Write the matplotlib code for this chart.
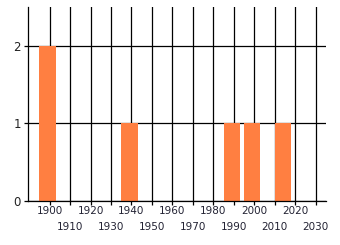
import matplotlib
matplotlib.use("Agg")
import matplotlib.pyplot as plt

years = [1899, 1939, 1989, 1999, 2014]
counts = [2, 1, 1, 1, 1]
xticks = list(range(1900, 2031, 10))
yticks = [0, 1, 2]

fig = plt.figure(figsize=(3.4, 2.45), dpi=100)
ax = fig.add_axes([28/340, 1-201/245, (326-28)/340, (201-7)/245])
for x in xticks:
    ax.axvline(x, color="black", lw=0.9, zorder=1)
for y in yticks:
    ax.axhline(y, color="black", lw=0.9, zorder=1)
ax.bar(years, counts, width=8, color="#ff7f41", zorder=2)
ax.set_xlim(1889.4, 2035.1)
ax.set_ylim(0, 2.5)
ax.set_xticks(xticks)
ax.set_xticklabels([])
ax.set_yticks(yticks)
ax.set_yticklabels([str(v) for v in yticks], fontsize=8.5, color="#222222")
for i, x in enumerate(xticks):
    off = -10 if i % 2 == 0 else -26
    ax.annotate(str(x), (x, 0), xycoords="data", xytext=(0, off),
                textcoords="offset pixels", ha="center", va="center",
                fontsize=7.5, color="#222233", family="DejaVu Sans")
for s in ["top", "right"]:
    ax.spines[s].set_visible(False)
ax.spines["left"].set_linewidth(0.9)
ax.spines["bottom"].set_linewidth(0.9)
ax.spines["bottom"].set_zorder(3)
ax.tick_params(axis="both", length=3, width=0.9, color="black", pad=2)
fig.savefig("out.png", dpi=100)
